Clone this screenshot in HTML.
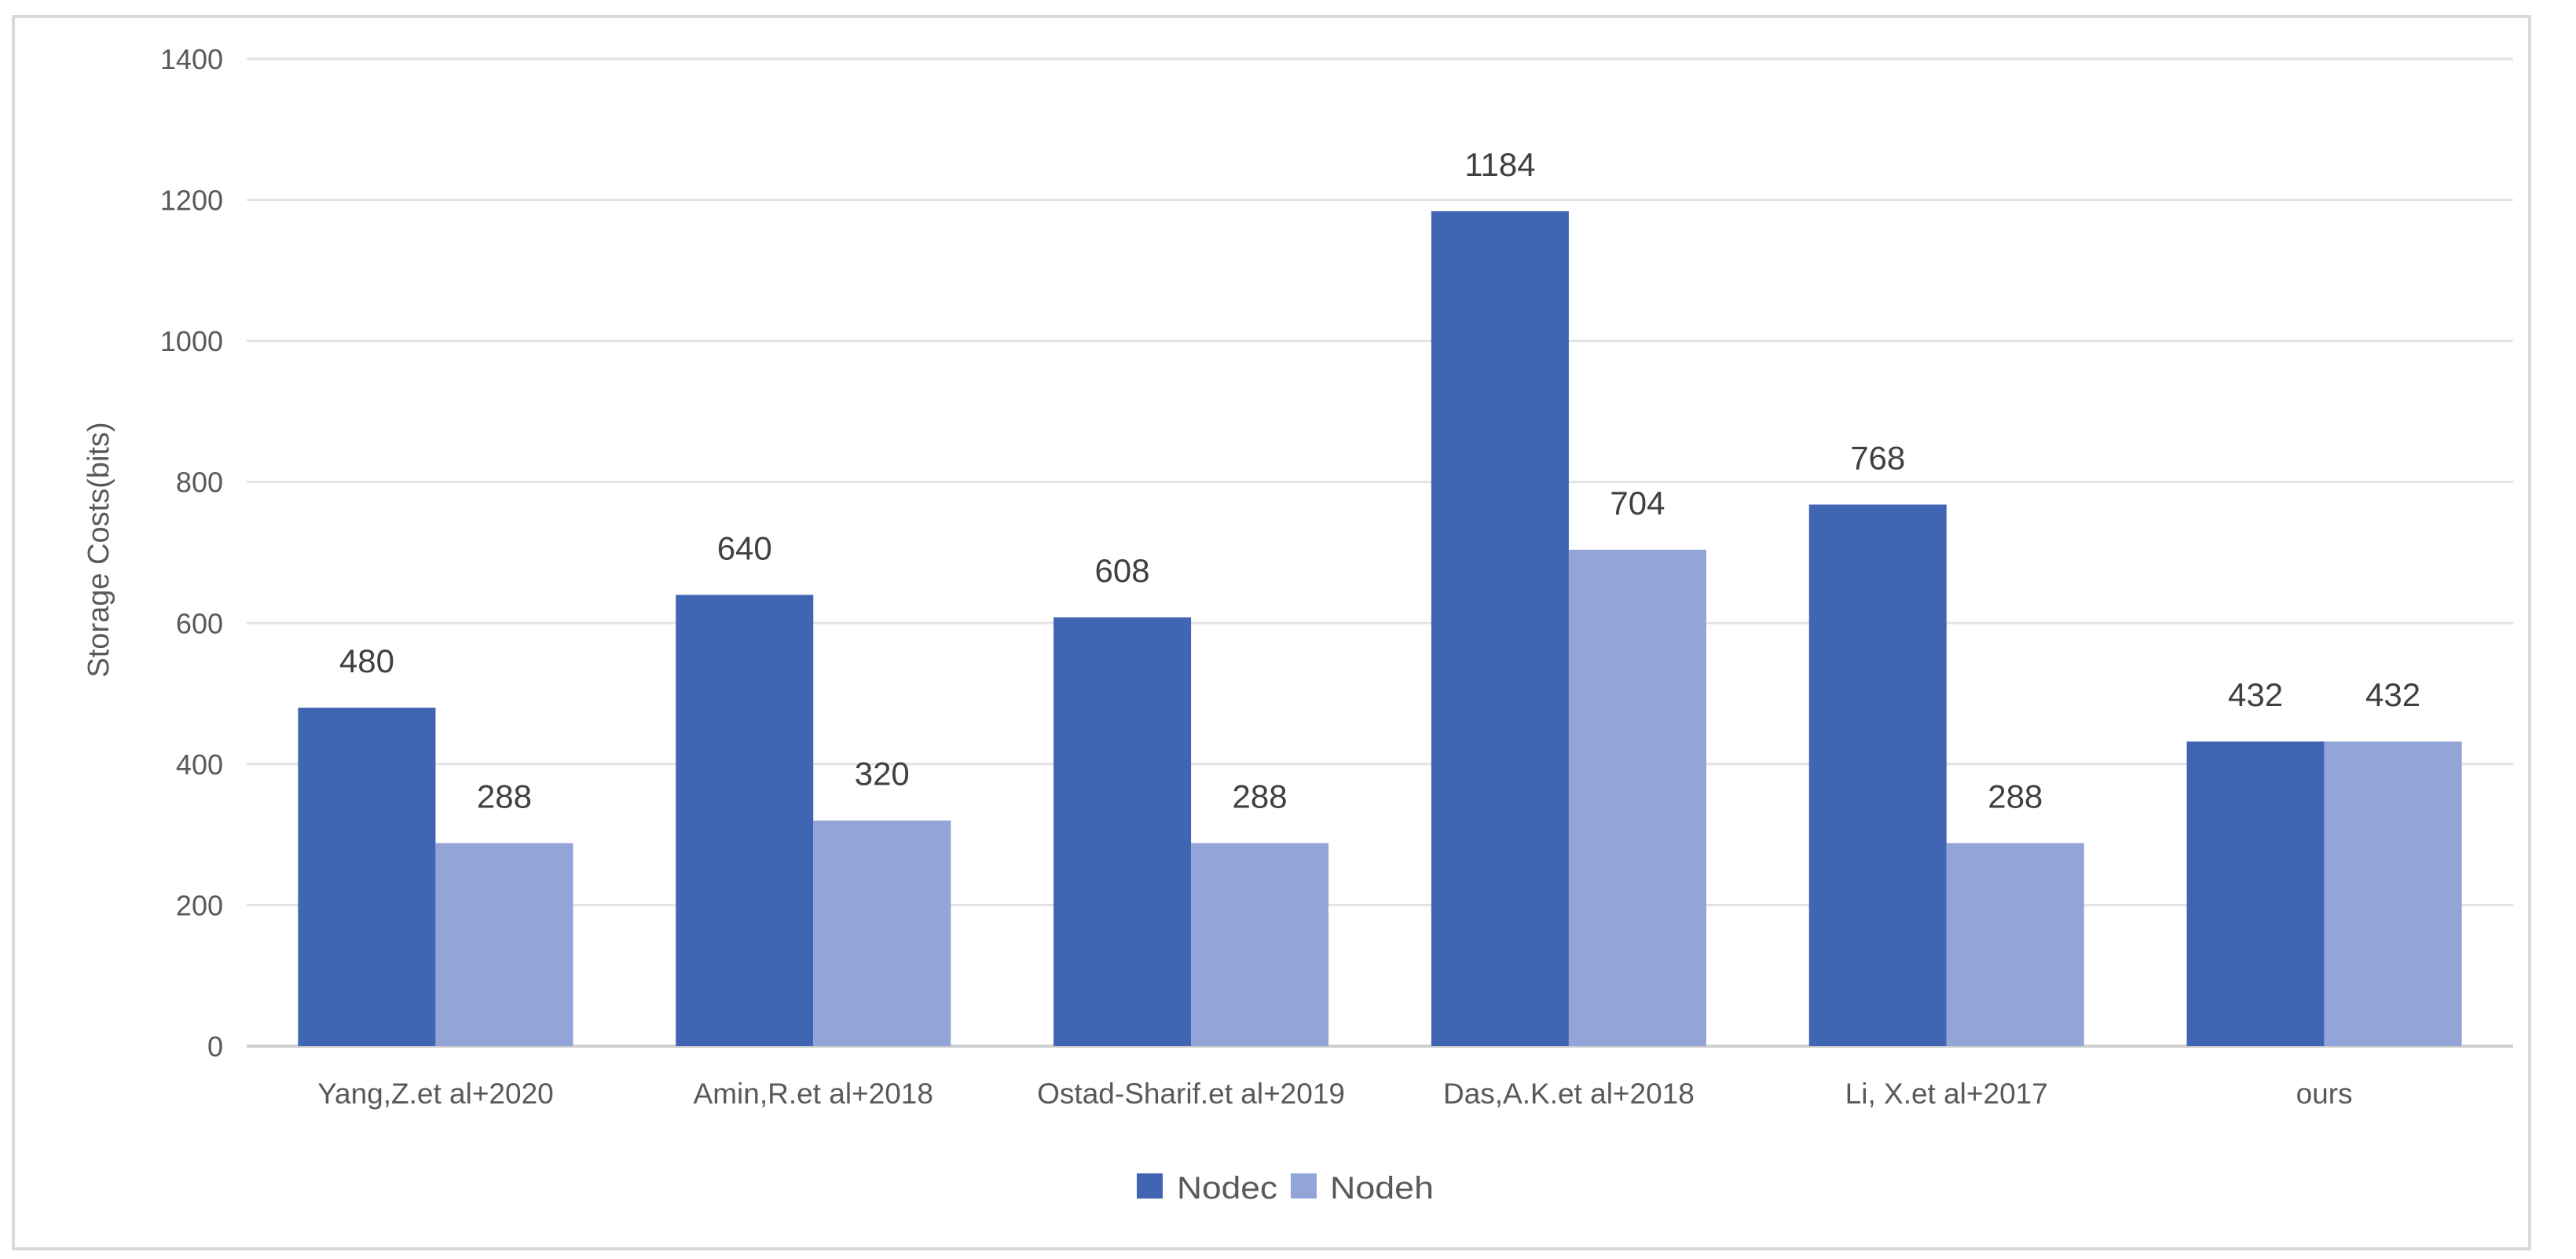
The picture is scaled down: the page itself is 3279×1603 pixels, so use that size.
<!DOCTYPE html>
<html><head><meta charset="utf-8"><style>
html,body{margin:0;padding:0;background:#fff;}
svg{display:block;font-family:"Liberation Sans",sans-serif;}
</style></head><body>
<svg id="chart" width="3279" height="1603" viewBox="0 0 3279 1603" xmlns="http://www.w3.org/2000/svg">
<rect x="17" y="21" width="3203" height="1569" fill="#fff" stroke="#d9d9d9" stroke-width="4"/>
<g id="grid"></g><g id="bars"></g><g id="labels"></g>
<text transform="translate(138,700) rotate(-90)" text-anchor="middle" font-size="38" fill="#595959">Storage Costs(bits)</text>
<g>
<rect x="1447" y="1494" width="33" height="32" fill="#4065b2"/>
<text x="1498" y="1526" font-size="40" textLength="128" lengthAdjust="spacingAndGlyphs" fill="#595959">Nodec</text>
<rect x="1643" y="1494" width="33" height="32" fill="#93a5d8"/>
<text x="1693" y="1526" font-size="40" textLength="132" lengthAdjust="spacingAndGlyphs" fill="#595959">Nodeh</text>
</g>
</svg>
<script>
const categories = ["Yang,Z.et al+2020","Amin,R.et al+2018","Ostad-Sharif.et al+2019","Das,A.K.et al+2018","Li, X.et al+2017","ours"];
const nodec = [480,640,608,1184,768,432];
const nodeh = [288,320,288,704,288,432];
const yTicks = [0,200,400,600,800,1000,1200,1400];
const NS="http://www.w3.org/2000/svg";
const X0=314, X1=3199, Y0=1332, Y1=75, YMAX=1400;
const y = v => Y0 - (v/YMAX)*(Y0-Y1);
const band = (X1-X0)/categories.length;
const bw = band*0.364;
const grid=document.getElementById('grid'), bars=document.getElementById('bars'), labels=document.getElementById('labels');
function mk(tag, attrs, parent, txt){const e=document.createElementNS(NS,tag);for(const k in attrs)e.setAttribute(k,attrs[k]);if(txt!==undefined)e.textContent=txt;parent.appendChild(e);return e;}
yTicks.forEach(t=>{
  const l=mk('line',{x1:X0,x2:X1,y1:y(t),y2:y(t),stroke:t===0?'#d0d0d0':'#e3e3e3','stroke-width':t===0?4:3},grid);
  
  
  const tx=mk('text',{x:284,y:y(t)+13,'text-anchor':'end','font-size':36,fill:'#595959'},labels,String(t));
  
  
});
categories.forEach((c,i)=>{
  const cx=X0+band*(i+0.5);
  [[nodec,'#4065b2','nodec',cx-bw],[nodeh,'#93a5d8','nodeh',cx]].forEach(([arr,col,nm,x])=>{
    const v=arr[i];
    const r=mk('rect',{x:x,y:y(v),width:bw,height:Y0-y(v),fill:col},bars);
    
    
    const t=mk('text',{x:x+bw/2,y:y(v)-45,'text-anchor':'middle','font-size':42,fill:'#404040'},labels,String(v));
    
    
  });
  const cl=mk('text',{x:cx,y:1405,'text-anchor':'middle','font-size':37,fill:'#595959'},labels,c);
  
  
});
</script>
</body></html>
